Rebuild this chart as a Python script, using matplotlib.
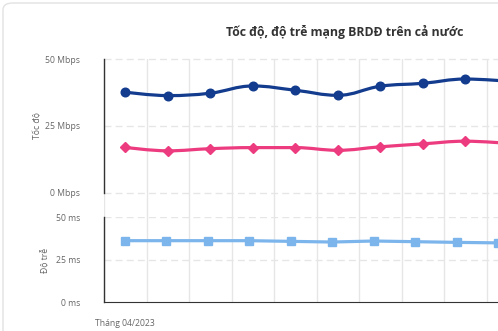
import matplotlib
matplotlib.use("Agg")
import matplotlib.pyplot as plt
from matplotlib.path import Path
from matplotlib.patches import PathPatch, FancyBboxPatch
import numpy as np

months = ["Tháng 04/2023", "Tháng 05/2023", "Tháng 06/2023", "Tháng 07/2023",
          "Tháng 08/2023", "Tháng 09/2023", "Tháng 10/2023", "Tháng 11/2023",
          "Tháng 12/2023", "Tháng 01/2024"]
speed_a = [37.7, 36.4, 37.3, 40.0, 38.4, 36.5, 39.9, 41.0, 42.6, 41.8]
speed_b = [17.0, 15.7, 16.5, 16.9, 16.9, 15.9, 17.2, 18.3, 19.3, 18.5]
latency = [36.2, 36.2, 36.2, 36.2, 35.8, 35.4, 36.0, 35.6, 35.2, 34.9]
speed_ticks = [0, 25, 50]
speed_labels = ["0 Mbps", "25 Mbps", "50 Mbps"]
lat_ticks = [0, 25, 50]
lat_labels = ["0 ms", "25 ms", "50 ms"]

C_DARK = "#133c8e"
C_PINK = "#ed3b7f"
C_LIGHT = "#7cb5ec"
GRID = "#e6e6e6"
LABEL = "#666666"
FONT = ["Open Sans", "DejaVu Sans"]

W, H = 498, 331
fig = plt.figure(figsize=(W / 100, H / 100), dpi=100)
fig.patch.set_facecolor("white")

def fx(px):
    return px / W

def fy(py):
    return 1 - py / H

# card border
card = FancyBboxPatch((fx(3), fy(345)), fx(560), (345 - 3) / H,
                      boxstyle="round,pad=0,rounding_size=0.02",
                      transform=fig.transFigure, facecolor="none",
                      edgecolor="#e2e2e2", linewidth=1.0, zorder=-5)
fig.patches.append(card)

L = 104
top_u, bot_u = 59.3, 192.7
top_l, bot_l = 217.3, 302.0
xl = (-0.5, (W - L) / 42.5 - 0.5)
x = np.arange(len(months))

# background axes for vertical grid
bg = fig.add_axes([fx(L), fy(bot_l), fx(W - L), (bot_l - top_u) / H])
bg.set_xlim(*xl)
bg.set_ylim(0, 1)
for xv in np.arange(-0.5, len(months) + 0.5, 1.0):
    bg.axvline(xv, color=GRID, lw=1.0)
bg.axis("off")

ax1 = fig.add_axes([fx(L), fy(bot_u), fx(W - L), (bot_u - top_u) / H])
ax2 = fig.add_axes([fx(L), fy(bot_l), fx(W - L), (bot_l - top_l) / H])
for ax in (ax1, ax2):
    ax.set_facecolor("none")
    ax.set_xlim(*xl)
    for s in ("top", "right", "bottom"):
        ax.spines[s].set_visible(False)
    ax.spines["left"].set_color("#333333")
    ax.spines["left"].set_linewidth(1.0)
    ax.tick_params(axis="y", length=0, pad=17, labelsize=6.2, labelcolor=LABEL)
    ax.tick_params(axis="x", length=0)

ax1.set_ylim(0, 50)
ax1.set_yticks(speed_ticks)
ax1.set_yticklabels(speed_labels, fontfamily=FONT)
for v in speed_ticks:
    ax1.axhline(v, color=GRID, lw=1.0, ls=(0, (5, 3)), zorder=0.5, clip_on=False)
ax1.set_xticks([])

ax2.set_ylim(0, 50)
ax2.set_yticks(lat_ticks)
ax2.set_yticklabels(lat_labels, fontfamily=FONT)
for v in lat_ticks[1:]:
    ax2.axhline(v, color=GRID, lw=1.0, ls=(0, (5, 3)), zorder=0.5)
ax2.spines["bottom"].set_visible(True)
ax2.spines["bottom"].set_color("#333333")
ax2.set_xticks(x)
ax2.set_xticklabels([m if i == 0 else "" for i, m in enumerate(months)],
                    fontsize=6.2, color=LABEL, fontfamily=FONT)
ax2.tick_params(axis="x", pad=12)


def spline_path(xs, ys, smoothing=1.5):
    xs = list(map(float, xs))
    ys = list(map(float, ys))
    n = len(xs)
    denom = smoothing + 1
    lc = [None] * n
    rc = [None] * n
    for i in range(1, n - 1):
        lx = (smoothing * xs[i] + xs[i - 1]) / denom
        ly = (smoothing * ys[i] + ys[i - 1]) / denom
        rx = (smoothing * xs[i] + xs[i + 1]) / denom
        ry = (smoothing * ys[i] + ys[i + 1]) / denom
        corr = ((ry - ly) * (rx - xs[i])) / (rx - lx) + ys[i] - ry
        ly += corr
        ry += corr
        if ly > ys[i - 1] and ly > ys[i]:
            ly = max(ys[i - 1], ys[i]); ry = 2 * ys[i] - ly
        elif ly < ys[i - 1] and ly < ys[i]:
            ly = min(ys[i - 1], ys[i]); ry = 2 * ys[i] - ly
        if ry > ys[i + 1] and ry > ys[i]:
            ry = max(ys[i + 1], ys[i]); ly = 2 * ys[i] - ry
        elif ry < ys[i + 1] and ry < ys[i]:
            ry = min(ys[i + 1], ys[i]); ly = 2 * ys[i] - ry
        lc[i] = (lx, ly)
        rc[i] = (rx, ry)
    verts = [(xs[0], ys[0])]
    codes = [Path.MOVETO]
    for i in range(1, n):
        c1 = rc[i - 1] if rc[i - 1] is not None else (xs[i - 1], ys[i - 1])
        c2 = lc[i] if lc[i] is not None else (xs[i], ys[i])
        verts += [c1, c2, (xs[i], ys[i])]
        codes += [Path.CURVE4] * 3
    return Path(verts, codes)


ax1.add_patch(PathPatch(spline_path(x, speed_a), fill=False, edgecolor=C_DARK,
                        lw=2.3, capstyle="round", joinstyle="round", zorder=3))
ax1.plot(x, speed_a, ls="none", marker="o", ms=6.2, color=C_DARK, zorder=4)
ax1.add_patch(PathPatch(spline_path(x, speed_b), fill=False, edgecolor=C_PINK,
                        lw=2.3, capstyle="round", joinstyle="round", zorder=3))
ax1.plot(x, speed_b, ls="none", marker="D", ms=4.6, color=C_PINK, zorder=4)
ax2.plot(x, latency, lw=2.3, marker="s", ms=6.0, color=C_LIGHT, zorder=4)

fig.text(fx(38), fy(126), "Tốc độ", rotation=90, ha="center", va="center",
         fontsize=6.2, color=LABEL, fontfamily=FONT)
fig.text(fx(45), fy(260), "Độ trễ", rotation=90, ha="center", va="center",
         fontsize=6.2, color=LABEL, fontfamily=FONT)
fig.text(fx(344.5), fy(32), "Tốc độ, độ trễ mạng BRDĐ trên cả nước",
         ha="center", va="center", fontsize=8.8, color="#333333",
         fontweight="bold", fontfamily=FONT)

fig.savefig("out.png", dpi=100, facecolor="white")
